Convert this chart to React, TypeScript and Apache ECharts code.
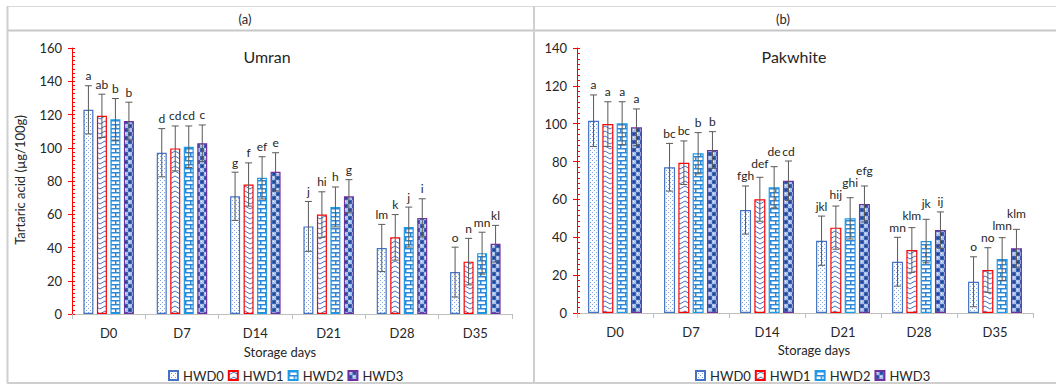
import React, { useEffect, useRef } from "react";
import * as echarts from "echarts";

const categories = ["D0", "D7", "D14", "D21", "D28", "D35"];
const seriesNames = ["HWD0", "HWD1", "HWD2", "HWD3"];

const umranValues = [
  [122.8, 97.0, 70.8, 52.7, 39.7, 25.2],
  [119.2, 99.6, 77.9, 59.8, 46.1, 31.5],
  [117.1, 100.6, 81.9, 64.4, 52.3, 36.6],
  [116.1, 102.7, 85.5, 70.8, 57.8, 42.3],
];
const umranErrors = [
  [14.5, 14.5, 14.5, 15.0, 14.2, 15.0],
  [13.0, 13.5, 13.0, 13.7, 13.7, 14.0],
  [12.5, 12.5, 12.7, 12.0, 12.0, 12.6],
  [11.3, 11.0, 11.5, 10.0, 11.5, 11.0],
];
const umranLetters = [
  ["a", "d", "g", "j", "lm", "o"],
  ["ab", "cd", "f", "hi", "k", "n"],
  ["b", "cd", "ef", "h", "j", "mn"],
  ["b", "c", "e", "g", "i", "kl"],
];

const pakValues = [
  [101.6, 77.0, 54.4, 38.2, 27.1, 16.5],
  [99.8, 79.4, 60.1, 45.1, 33.3, 22.7],
  [100.2, 84.4, 66.4, 50.0, 38.0, 28.5],
  [98.1, 86.1, 69.9, 57.6, 43.8, 34.2],
];
const pakErrors = [
  [13.6, 12.6, 12.7, 13.0, 12.9, 13.2],
  [11.8, 11.5, 11.6, 11.4, 11.8, 11.8],
  [11.4, 10.9, 10.9, 10.9, 11.5, 11.3],
  [9.7, 9.7, 10.4, 9.5, 9.6, 10.0],
];
const pakLetters = [
  ["a", "bc", "fgh", "jkl", "mn", "o"],
  ["a", "bc", "def", "hij", "klm", "no"],
  ["a", "b", "de", "ghi", "jk", "lmn"],
  ["a", "b", "cd", "efg", "ij", "klm"],
];

const leftTicks = { min: 0, max: 160, interval: 20 };
const rightTicks = { min: 0, max: 140, interval: 20 };

const borderColors = ["#4472C4", "#FF0000", "#1E9BE8", "#7030A0"];
const FONT = "Lato, 'Open Sans', sans-serif";

function makeCanvas(w: number, h: number, draw: (c: CanvasRenderingContext2D) => void) {
  const cv = document.createElement("canvas");
  cv.width = w;
  cv.height = h;
  const ctx = cv.getContext("2d")!;
  draw(ctx);
  return cv;
}

function makePatterns() {
  const dots = makeCanvas(4, 4, (c) => {
    c.fillStyle = "#ffffff";
    c.fillRect(0, 0, 4, 4);
    c.fillStyle = "#7FA6DA";
    c.fillRect(0, 0, 1, 1);
    c.fillRect(2, 2, 1, 1);
  });
  const zig = makeCanvas(10, 5, (c) => {
    c.fillStyle = "#ffffff";
    c.fillRect(0, 0, 10, 5);
    c.strokeStyle = "#4472C4";
    c.lineWidth = 1;
    c.beginPath();
    c.moveTo(0, 4);
    c.lineTo(5, 1);
    c.lineTo(10, 4);
    c.stroke();
  });
  const brick = makeCanvas(10, 8, (c) => {
    c.fillStyle = "#ffffff";
    c.fillRect(0, 0, 10, 8);
    c.fillStyle = "#2E86D6";
    c.fillRect(0, 0, 10, 1.5);
    c.fillRect(0, 4, 10, 1.5);
    c.fillRect(0, 0, 1.5, 4);
    c.fillRect(5, 4, 1.5, 4);
  });
  const check = makeCanvas(8, 8, (c) => {
    c.fillStyle = "#3B66B8";
    c.fillRect(0, 0, 8, 8);
    c.fillStyle = "#A9C1E8";
    c.fillRect(0, 0, 4, 4);
    c.fillRect(4, 4, 4, 4);
    c.fillStyle = "#ffffff";
    c.fillRect(1, 1, 1, 1);
    c.fillRect(5, 5, 1, 1);
    c.fillStyle = "#24468F";
    c.fillRect(5, 1, 2, 2);
    c.fillRect(1, 5, 2, 2);
  });
  return [dots, zig, brick, check].map((cv) => ({ image: cv, repeat: "repeat" }));
}

const LETTER_FONT_SIZE = 12;
const LETTER_CHAR_W = 6.2;
const LETTER_STACK = 12;

function buildPanel(
  gridIndex: number,
  values: number[][],
  errors: number[][],
  letters: string[][],
  patterns: any[],
  barWidth: number,
  gapPct: number
) {
  const series: any[] = [];
  const step = barWidth * (1 + gapPct / 100);
  seriesNames.forEach((name, i) => {
    series.push({
      name,
      type: "bar",
      xAxisIndex: gridIndex,
      yAxisIndex: gridIndex * 2,
      data: values[i],
      barWidth,
      barGap: gapPct + "%",
      itemStyle: { color: patterns[i], borderColor: borderColors[i], borderWidth: 1.2 },
      z: 2,
    });
  });
  seriesNames.forEach((name, i) => {
    const offset = (i - 1.5) * step;
    series.push({
      name: name + "_err",
      type: "custom",
      xAxisIndex: gridIndex,
      yAxisIndex: gridIndex * 2,
      z: 5,
      silent: true,
      data: values[i].map((v, j) => [j, v, errors[i][j]]),
      renderItem: (params: any, api: any) => {
        const j = api.value(0);
        const v = api.value(1);
        const e = api.value(2);
        const top = api.coord([j, v + e]);
        const bot = api.coord([j, v - e]);
        const x = top[0] + offset;
        // label layout: stack upward when a neighbour label would collide
        let prevY = Infinity;
        let prevW = 0;
        let labelY = 0;
        for (let k = 0; k <= i; k++) {
          const capY = api.coord([j, values[k][j] + errors[k][j]])[1];
          const w = letters[k][j].length * LETTER_CHAR_W;
          let y = capY - 4;
          if (k > 0 && (w + prevW) / 2 > step && y > prevY - LETTER_STACK) {
            y = prevY - LETTER_STACK;
          }
          prevY = y;
          prevW = w;
          labelY = y;
        }
        const st = { stroke: "#595959", lineWidth: 1 };
        return {
          type: "group",
          children: [
            { type: "line", shape: { x1: x, y1: top[1], x2: x, y2: bot[1] }, style: st },
            { type: "line", shape: { x1: x - 3.5, y1: top[1], x2: x + 3.5, y2: top[1] }, style: st },
            { type: "line", shape: { x1: x - 3.5, y1: bot[1], x2: x + 3.5, y2: bot[1] }, style: st },
            {
              type: "text",
              x,
              y: labelY,
              style: {
                text: letters[i][params.dataIndex],
                fill: "#262626",
                font: LETTER_FONT_SIZE + "px " + FONT,
                align: "center",
                verticalAlign: "bottom",
              },
            },
          ],
        };
      },
    });
  });
  return series;
}

export default function App() {
  const ref = useRef<HTMLDivElement>(null);
  useEffect(() => {
    if (!ref.current) return;
    const chart = echarts.init(ref.current, undefined, { renderer: "svg" });
    const patterns = makePatterns();

    const xAxisCommon = (gridIndex: number) => ({
      type: "category",
      gridIndex,
      data: categories,
      axisLine: { lineStyle: { color: "#BFBFBF", width: 1 } },
      axisTick: { show: true, length: 5, lineStyle: { color: "#BFBFBF" } },
      axisLabel: { color: "#262626", fontSize: 13, fontFamily: FONT, margin: 12 },
      splitLine: { show: false },
    });
    const yMain = (gridIndex: number, t: any, minorSplit: number) => ({
      type: "value",
      gridIndex,
      position: "left",
      min: t.min,
      max: t.max,
      interval: t.interval,
      axisLine: { show: true, lineStyle: { color: "#FF0000", width: 1 } },
      axisTick: { show: true, inside: true, length: 3, lineStyle: { color: "#FF0000" } },
      minorTick: { show: true, splitNumber: minorSplit, length: 3, lineStyle: { color: "#FF0000" } },
      axisLabel: { color: "#262626", fontSize: 13, fontFamily: FONT, margin: 10 },
      splitLine: { show: false },
    });
    const yOverlay = (gridIndex: number, t: any) => ({
      type: "value",
      gridIndex,
      position: "left",
      offset: 0,
      min: t.min,
      max: t.max,
      interval: t.interval,
      axisLine: { show: false },
      axisTick: { show: true, inside: false, length: 4, lineStyle: { color: "#FF0000" } },
      axisLabel: { show: false },
      splitLine: { show: false },
    });

    const legendCommon = {
      data: seriesNames,
      icon: "rect",
      itemWidth: 9,
      itemHeight: 9,
      itemGap: 4,
      top: 364,
      textStyle: { color: "#262626", fontSize: 13, fontFamily: FONT },
      selectedMode: false,
    };

    const lineStyle = (c: string, w: number) => ({ stroke: c, lineWidth: w });

    const option: any = {
      animation: false,
      backgroundColor: "#ffffff",
      textStyle: { fontFamily: FONT },
      grid: [
        { left: 72, top: 48, width: 440, height: 266 },
        { left: 577, top: 48, width: 456, height: 265 },
      ],
      xAxis: [xAxisCommon(0), xAxisCommon(1)],
      yAxis: [
        yMain(0, leftTicks, 8),
        yOverlay(0, leftTicks),
        yMain(1, rightTicks, 7),
        yOverlay(1, rightTicks),
      ],
      legend: [
        { ...legendCommon, left: 163 },
        { ...legendCommon, left: 690 },
      ],
      series: [
        ...buildPanel(0, umranValues, umranErrors, umranLetters, patterns, 10, 35),
        ...buildPanel(1, pakValues, pakErrors, pakLetters, patterns, 11, 30),
      ],
      graphic: [
        { type: "line", shape: { x1: 7, y1: 6.5, x2: 1056, y2: 6.5 }, style: lineStyle("#DADADA", 1), silent: true },
        { type: "line", shape: { x1: 7, y1: 30.5, x2: 1056, y2: 30.5 }, style: lineStyle("#C8C8C8", 2), silent: true },
        { type: "line", shape: { x1: 7.5, y1: 6, x2: 7.5, y2: 383 }, style: lineStyle("#CFCFCF", 2), silent: true },
        { type: "line", shape: { x1: 534, y1: 6, x2: 534, y2: 383 }, style: lineStyle("#CFCFCF", 2), silent: true },
        { type: "line", shape: { x1: 7, y1: 383, x2: 1056, y2: 383 }, style: lineStyle("#CFCFCF", 2), silent: true },
        { type: "text", x: 245, y: 19, style: { text: "(a)", fill: "#262626", font: "13px " + FONT, align: "center", verticalAlign: "middle" } },
        { type: "text", x: 783, y: 19, style: { text: "(b)", fill: "#262626", font: "13px " + FONT, align: "center", verticalAlign: "middle" } },
        { type: "text", x: 267, y: 56, style: { text: "Umran", fill: "#262626", font: "16px " + FONT, align: "center", verticalAlign: "middle" } },
        { type: "text", x: 794, y: 56, style: { text: "Pakwhite", fill: "#262626", font: "16px " + FONT, align: "center", verticalAlign: "middle" } },
        { type: "text", x: 280, y: 352, style: { text: "Storage days", fill: "#262626", font: "13px " + FONT, align: "center", verticalAlign: "middle" } },
        { type: "text", x: 814, y: 350, style: { text: "Storage days", fill: "#262626", font: "13px " + FONT, align: "center", verticalAlign: "middle" } },
        {
          type: "text",
          x: 20,
          y: 180,
          rotation: Math.PI / 2,
          style: { text: "Tartaric acid (µg/100g)", fill: "#262626", font: "13px " + FONT, align: "center", verticalAlign: "middle" },
        },
      ],
    };
    chart.setOption(option);
    return () => chart.dispose();
  }, []);
  return (
    <div
      ref={ref}
      style={{ position: "fixed", left: 0, top: 0, width: 1056, height: 385, background: "#fff" }}
    />
  );
}
